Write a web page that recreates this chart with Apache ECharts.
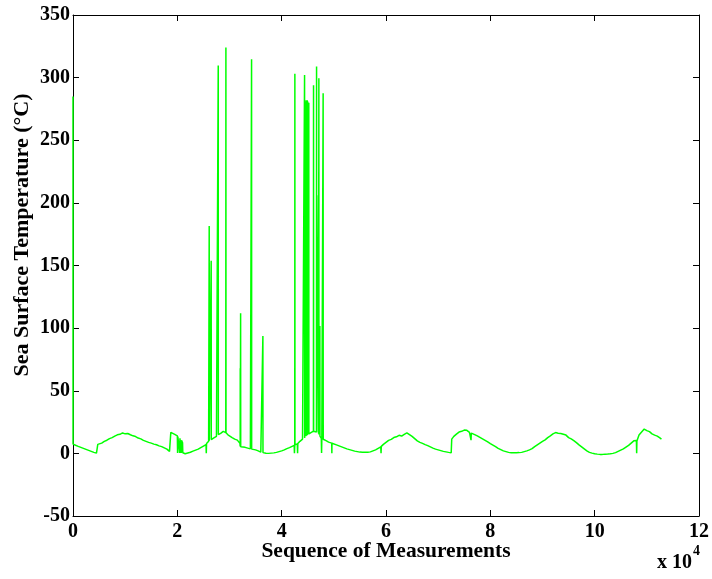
<!DOCTYPE html>
<html>
<head>
<meta charset="utf-8">
<title>Sea Surface Temperature</title>
<script src="https://cdn.jsdelivr.net/npm/echarts@6/dist/echarts.min.js"></script>
<style>
  html, body { margin: 0; padding: 0; background: #ffffff; }
  #chart { width: 712px; height: 579px; }
</style>
</head>
<body>
<div id="chart"></div>
<script>
// Measurement sequence index and sea surface temperature (°C) at each sample
const seqIndex = [
  0, 10, 500, 1000, 1500, 2000, 2500, 3000, 3500, 4000, 4500, 4700, 4750,
  5000, 5500, 6000, 6500, 7000, 7500, 8000, 8500, 9000, 9500, 10000, 10500,
  11000, 11500, 12000, 12500, 13000, 13500, 14000, 14500, 15000, 15500, 16000,
  16500, 17000, 17500, 18000, 18500, 18700, 18750, 19000, 19500, 19800,
  20000, 20050, 20100, 20400, 20450, 20500, 20700, 20750, 20800, 21000, 21050,
  21200, 21500, 22000, 22500, 23000, 23500, 24000, 24500, 25000, 25500, 25550,
  25600, 26000, 26090, 26110, 26130, 26400, 26470, 26490, 26510, 27000, 27500,
  27820, 27840, 27860, 28300, 28800, 29290, 29310, 29330, 29700, 30000, 30500,
  31000, 31500, 32000, 32050, 32060, 32070, 32110, 32130, 32150, 33000, 34000,
  34210, 34230, 34250, 35000, 35500, 36000, 36380, 36400, 36420, 37000, 37500,
  38000, 38500, 39000, 39500, 40000, 40500, 41000, 41500, 42000, 42400, 42450,
  42510, 42530, 42550, 43000, 43050, 43100, 43500, 44000, 44370, 44390, 44410,
  44580, 44600, 44620, 44680, 44700, 44720, 44780, 44800, 44820, 44880, 44900,
  44920, 44980, 45000, 45020, 45080, 45100, 45120, 45180, 45200, 45220, 45500,
  46090, 46110, 46130, 46500, 46670, 46690, 46710, 47030, 47050, 47070, 47110,
  47130, 47150, 47300, 47320, 47340, 47600, 47650, 47700, 47930, 47950, 47970,
  48500, 49000, 49600, 49620, 49640, 50000, 50500, 51000, 51500, 52000, 52500,
  53000, 53500, 54000, 54500, 55000, 55500, 56000, 56500, 57000, 57500, 58000,
  58500, 59000, 59050, 59100, 59500, 60000, 60500, 61000, 61500, 62000, 62500,
  63000, 63500, 64000, 64500, 65000, 65500, 66000, 66500, 67000, 67500, 68000,
  68500, 69000, 69500, 70000, 70500, 71000, 71500, 72000, 72500, 72600, 73000,
  73500, 74000, 74500, 75000, 75500, 76000, 76200, 76300, 76350, 77000, 77500,
  78000, 78500, 79000, 79500, 80000, 80500, 81000, 81500, 82000, 82500, 83000,
  83500, 84000, 84500, 85000, 85500, 86000, 86500, 87000, 87500, 88000, 88500,
  89000, 89500, 90000, 90500, 91000, 91500, 92000, 92500, 93000, 93500, 94000,
  94500, 95000, 95500, 96000, 96500, 97000, 97500, 98000, 98500, 99000, 99500,
  100000, 100500, 101000, 101500, 102000, 102500, 103000, 103500, 104000,
  104500, 105000, 105500, 106000, 106500, 107000, 107500, 107800, 108000,
  108050, 108100, 108500, 109000, 109500, 110000, 110500, 111000, 111500,
  112000, 112500, 112800
];

const sstValue = [
  285, 7.4, 6.5, 5.6, 4.8, 4.0, 3.2, 2.4, 1.6, 0.8, 0.2, 0.0, 7.2,
  7.6, 8.2, 9.6, 10.5, 11.8, 12.6, 13.8, 14.8, 15.2, 16.3, 15.6, 15.9,
  14.9, 14.0, 13.4, 12.2, 11.6, 10.4, 9.6, 8.8, 8.2, 7.4, 6.9,
  6.0, 5.4, 4.4, 3.4, 1.6, 1.0, 16.8, 15.8, 15.2, 14.6,
  14.0, 0.3, 13.5, 12.5, 0.3, 12.0, 11.0, 0.3, 10.5, 8.5, 0.5,
  0.2, -0.3, 0.3, 0.9, 1.8, 2.6, 3.4, 4.6, 5.8, 7.0, 0.2,
  7.8, 9.6, 9.9, 181.5, 10.0, 10.8, 10.9, 153.8, 11.0, 12.4, 13.6,
  14.8, 309.6, 15.0, 16.0, 17.6, 16.6, 324, 16.4, 14.8, 13.6, 12.6,
  11.4, 10.6, 8.0, 5.5, 68, 5.4, 5.4, 111.8, 5.3, 4.8, 3.6,
  3.5, 314.7, 3.4, 2.8, 2.0, 1.0, 0.7, 93.7, 0.6, 0.1, 0.0,
  0.2, 0.4, 0.8, 1.4, 2.0, 2.8, 3.8, 4.6, 5.6, 6.4, 0.2,
  6.6, 303, 6.8, 7.6, 0.2, 7.8, 9.6, 11.4, 12.0, 302, 12.2,
  13.5, 281, 13.6, 13.8, 282, 14.0, 14.2, 281, 14.3, 14.5, 282,
  14.6, 14.8, 281, 15.0, 15.1, 141, 15.2, 15.3, 280, 15.5, 16.2,
  17.8, 294, 17.7, 17.0, 17.0, 308.8, 16.8, 16.0, 206, 15.8, 15.5,
  299.5, 15.0, 14.0, 101.7, 13.8, 12.0, 0.3, 12.0, 11.4, 287.5, 11.3,
  10.2, 9.0, 8.2, 0.2, 8.1, 7.6, 6.8, 6.0, 5.2, 4.4, 3.6,
  3.0, 2.4, 1.8, 1.4, 1.0, 0.9, 0.8, 0.9, 1.2, 2.0, 2.8,
  4.0, 5.2, 0.2, 5.6, 7.2, 8.8, 10.4, 11.2, 12.6, 13.2, 14.4,
  13.8, 15.2, 16.4, 15.0, 13.6, 11.8, 10.0, 8.8, 8.0, 7.0, 6.2,
  5.2, 4.2, 3.4, 2.8, 2.2, 1.6, 1.2, 0.8, 0.5, 11.4, 13.6,
  15.4, 17.0, 17.6, 18.6, 18.4, 16.8, 17.0, 10.6, 16.2, 15.0, 14.0,
  12.8, 11.6, 10.4, 9.2, 7.8, 6.6, 5.4, 4.0, 3.0, 2.0, 1.4,
  0.8, 0.5, 0.4, 0.5, 0.6, 0.8, 1.4, 2.0, 2.8, 3.8, 5.4,
  6.8, 8.2, 9.6, 10.8, 12.6, 14.0, 15.6, 16.6, 16.0, 15.8, 15.2,
  14.6, 12.6, 11.6, 10.2, 8.6, 6.8, 5.2, 3.6, 2.0, 0.8, 0.2,
  -0.3, -0.6, -0.8, -0.8, -0.6, -0.5, -0.3, 0.0, 0.6,
  1.6, 2.6, 3.6, 5.0, 6.4, 8.2, 10.0, 11.4, 10.2,
  0.2, 9.8, 14.6, 17.0, 19.4, 18.2, 17.4, 15.6, 14.6,
  13.8, 12.4, 11.4
];

// Axis ranges and tick spacing
const xRange = [0, 120000];
const xStep = 20000;
const yRange = [-50, 350];
const yStep = 50;

const points = seqIndex.map((x, i) => [x, sstValue[i]]);

const serifFont = '"Liberation Serif", "Times New Roman", serif';
const tickFont = { fontFamily: serifFont, fontWeight: 'bold', fontSize: 20, color: '#000' };
const frameLine = { color: '#000', width: 1 };
const innerTick = { show: true, inside: true, length: 6, lineStyle: { color: '#000' } };

const chart = echarts.init(document.getElementById('chart'), null, { renderer: 'canvas' });

chart.setOption({
  animation: false,
  backgroundColor: '#ffffff',
  grid: { left: 73, right: 13, top: 15, bottom: 63, containLabel: false },
  xAxis: [
    {
      type: 'value', position: 'bottom',
      min: xRange[0], max: xRange[1], interval: xStep,
      axisLine: { show: true, onZero: false, lineStyle: frameLine },
      axisTick: innerTick,
      axisLabel: Object.assign({ margin: 6, formatter: v => String(v / 10000) }, tickFont),
      splitLine: { show: false }
    },
    {
      type: 'value', position: 'top',
      min: xRange[0], max: xRange[1], interval: xStep,
      axisLine: { show: true, onZero: false, lineStyle: frameLine },
      axisTick: innerTick,
      axisLabel: { show: false },
      splitLine: { show: false }
    }
  ],
  yAxis: [
    {
      type: 'value', position: 'left',
      min: yRange[0], max: yRange[1], interval: yStep,
      axisLine: { show: true, onZero: false, lineStyle: frameLine },
      axisTick: innerTick,
      axisLabel: Object.assign({ margin: 3 }, tickFont),
      splitLine: { show: false }
    },
    {
      type: 'value', position: 'right',
      min: yRange[0], max: yRange[1], interval: yStep,
      axisLine: { show: true, onZero: false, lineStyle: frameLine },
      axisTick: innerTick,
      axisLabel: { show: false },
      splitLine: { show: false }
    }
  ],
  series: [
    {
      type: 'line',
      xAxisIndex: 0,
      yAxisIndex: 0,
      data: points,
      showSymbol: false,
      symbol: 'none',
      lineStyle: { color: '#00ff00', width: 1.5 },
      z: 1
    }
  ],
  graphic: [
    {
      type: 'text',
      x: 386, y: 551,
      style: {
        text: 'Sequence of Measurements',
        fontFamily: serifFont, fontWeight: 'bold', fontSize: 21.5, fill: '#000',
        align: 'center', verticalAlign: 'middle'
      }
    },
    {
      type: 'text',
      x: 22, y: 235, rotation: Math.PI / 2,
      style: {
        text: 'Sea Surface Temperature (\u00b0C)',
        fontFamily: serifFont, fontWeight: 'bold', fontSize: 22, fill: '#000',
        align: 'center', verticalAlign: 'middle'
      }
    },
    {
      type: 'text',
      x: 692, y: 563,
      style: {
        text: 'x 10',
        fontFamily: serifFont, fontWeight: 'bold', fontSize: 20, fill: '#000',
        align: 'right', verticalAlign: 'middle'
      }
    },
    {
      type: 'text',
      x: 693, y: 551,
      style: {
        text: '4',
        fontFamily: serifFont, fontWeight: 'bold', fontSize: 14, fill: '#000',
        align: 'left', verticalAlign: 'middle'
      }
    }
  ]
});
</script>
</body>
</html>
